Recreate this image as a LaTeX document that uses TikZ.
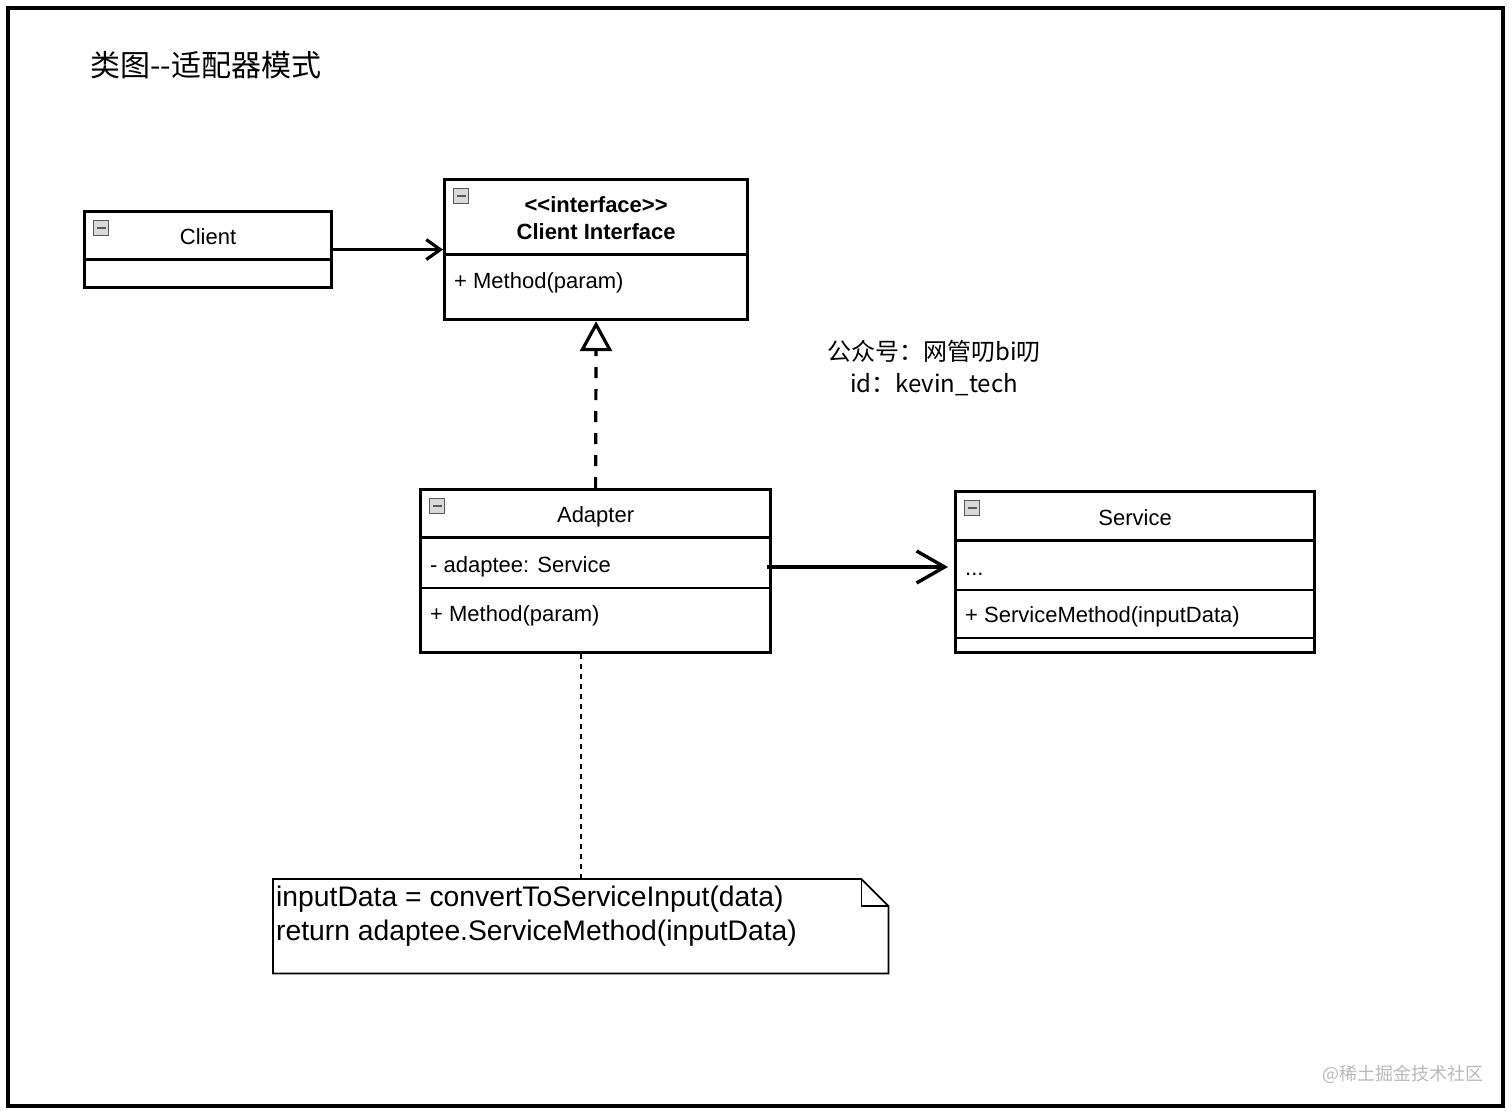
\documentclass[tikz,border=0pt]{standalone}
\usepackage{fontspec}
\setmainfont{Liberation Sans}
\newfontfamily\cjk{Noto Sans CJK SC}
\usetikzlibrary{positioning,calc,arrows.meta}

\begin{document}
\begin{tikzpicture}[x=1pt,y=-1pt,
	% Style cho các lớp UML
	classbox/.style={
		draw=black,
		line width=3.2pt,
		anchor=north west,
		inner sep=0pt
	},
	divider/.style={line width=3pt},
	thindiv/.style={line width=1.8pt},
	toggle/.style={
		draw=gray!70!black, fill=gray!30, line width=0.9pt,
		minimum size=15pt, inner sep=0pt,
		path picture={\draw[line width=2pt] ([xshift=3pt]path picture bounding box.west) -- ([xshift=-3pt]path picture bounding box.east);}
	},
	classname/.style={font=\fontsize{22}{27}\selectfont, inner sep=0pt},
	member/.style={font=\fontsize{22}{27}\selectfont, anchor=west, inner sep=0pt},
	notetext/.style={font=\fontsize{28.3}{34}\selectfont, align=left, anchor=north west, inner sep=0pt},
	% Style cho các mũi tên
	assoc/.style={line width=3.2pt, -{Straight Barb[length=14pt,width=20pt]}},
	bigassoc/.style={line width=3.4pt, -{Straight Barb[length=28pt,width=32pt]}},
	realize/.style={line width=3.2pt, dash pattern=on 11pt off 11pt, -{Triangle[open,length=30pt,width=32pt]}},
	notelink/.style={line width=1.3pt, dash pattern=on 5pt off 5pt}
	]
	\useasboundingbox (0,0) rectangle (1512,1113);
	% Khung ngoài
	\draw[line width=4pt] (8,8) rectangle (1503,1106);
	
	% Tiêu đề
	\node[anchor=west, inner sep=0pt, font=\cjk\fontsize{30}{30}\selectfont] (title) at (90,65) {类图-{}-适配器模式};
	\node[align=center, inner sep=0pt, font=\cjk\fontsize{24}{32}\selectfont] (author) at (934,368) {公众号：网管叨bi叨\\id：kevin\_tech};
	
	% Các lớp
	\node[classbox, minimum width=247pt, minimum height=76pt] (client) at (83,210) {};
	\node[classbox, minimum width=303pt, minimum height=140pt] (iface) at (443,178) {};
	\node[classbox, minimum width=350pt, minimum height=163pt] (adapter) at (419,488) {};
	\node[classbox, minimum width=359pt, minimum height=161pt] (service) at (954,490) {};
	
	% Các đường chia ngăn
	\draw[divider] ($(client.north west)+(0,49)$) -- ($(client.north east)+(0,49)$);
	\draw[divider] ($(iface.north west)+(0,76)$) -- ($(iface.north east)+(0,76)$);
	\draw[divider] ($(adapter.north west)+(0,49)$) -- ($(adapter.north east)+(0,49)$);
	\draw[thindiv] ($(adapter.north west)+(0,100)$) -- ($(adapter.north east)+(0,100)$);
	\draw[divider] ($(service.north west)+(0,50)$) -- ($(service.north east)+(0,50)$);
	\draw[thindiv] ($(service.north west)+(0,100)$) -- ($(service.north east)+(0,100)$);
	\draw[thindiv] ($(service.north west)+(0,148)$) -- ($(service.north east)+(0,148)$);
	
	% Nút thu gọn
	\foreach \c in {client,iface,adapter,service}
		\node[toggle] (\c-tg) at ($(\c.north west)+(18,18)$) {};
	
	% Tên lớp và thành viên
	\node[classname] (client-name) at ($(client.north)+(0,27)$) {Client};
	\node[classname, font=\bfseries\fontsize{22}{27}\selectfont, align=center] (iface-name) at ($(iface.north)+(0,40)$) {{<}{<}interface{>}{>}\\Client Interface};
	\node[member] (iface-m) at ($(iface.north west)+(11,105)$) {+ Method(param)};
	\node[classname] (adapter-name) at ($(adapter.north)+(0,29)$) {Adapter};
	\node[member] (adaptee) at ($(adapter.north west)+(11,79)$) {- adaptee: Service};
	\node[member] (adapter-m) at ($(adapter.north west)+(11,128)$) {+ Method(param)};
	\node[classname] (service-name) at ($(service.north)+(0,28)$) {Service};
	\node[member] (service-a) at ($(service.north west)+(11,84)$) {...};
	\node[member] (service-m) at ($(service.north west)+(11,127)$) {+ ServiceMethod(inputData)};
	
	% Ghi chú
	\node[minimum width=615pt, minimum height=94pt, anchor=north west, inner sep=0pt] (note) at (273,879) {};
	\draw[line width=1.8pt] (note.north west) -- ($(note.north east)+(-27,0)$) -- ($(note.north east)+(0,27)$) -- (note.south east) -- (note.south west) -- cycle;
	\draw[line width=1.4pt] ($(note.north east)+(-27,0)$) -- ($(note.north east)+(-27,27)$) -- ($(note.north east)+(0,27)$);
	\node[notetext] (note-text) at ($(note.north west)+(3,7)$) {inputData = convertToServiceInput(data)\\return adaptee.ServiceMethod(inputData)};
	\coordinate (note-top) at (581,879);
	
	% Mũi tên
	\draw[assoc] (client.east) -- (client.east -| iface.west);
	\draw[realize] (adapter.north) -- (iface.south);
	\draw[bigassoc] ([xshift=-5pt]adapter.east |- adaptee) -- ([xshift=-6pt]service.west |- adaptee);
	\draw[notelink] (adapter.south -| note-top) -- (note-top);
	
	% Watermark
	\node[text=gray!55, inner sep=0pt, font=\cjk\fontsize{18}{18}\selectfont] (mark) at (1403,1074) {@稀土掘金技术社区};
\end{tikzpicture}
\end{document}
